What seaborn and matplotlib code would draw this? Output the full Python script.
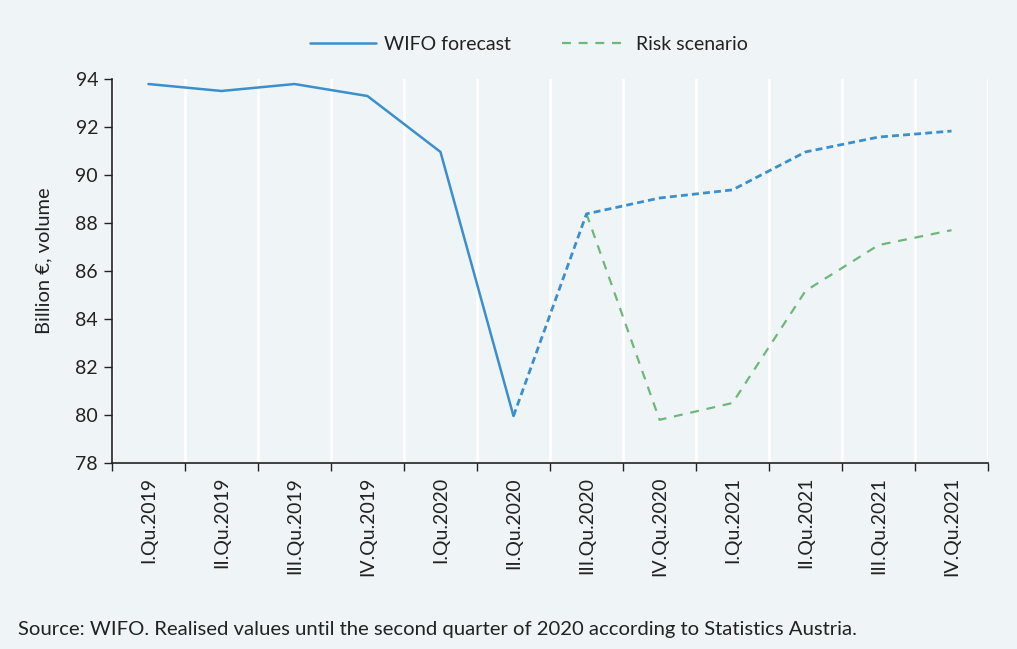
import matplotlib
matplotlib.use("Agg")
import matplotlib.pyplot as plt
import seaborn as sns
import pandas as pd
import numpy as np

quarters = ["I.Qu.2019", "II.Qu.2019", "III.Qu.2019", "IV.Qu.2019",
            "I.Qu.2020", "II.Qu.2020", "III.Qu.2020", "IV.Qu.2020",
            "I.Qu.2021", "II.Qu.2021", "III.Qu.2021", "IV.Qu.2021"]
realised = [93.79, 93.50, 93.79, 93.29, 90.96, 79.96]
forecast = [79.96, 88.38, 89.04, 89.38, 90.96, 91.58, 91.83]
risk = [88.38, 79.80, 80.50, 85.17, 87.08, 87.70]

BG = "#EFF5F6"
BLUE = "#3A8FCC"
GREEN = "#6DB77A"
TXT = "#222222"

sns.set_theme(style="white")
plt.rcParams['font.family'] = ['Lato', 'DejaVu Sans']

fig = plt.figure(figsize=(10.17, 6.49), dpi=100, facecolor=BG)
ax = fig.add_axes([0.1101, 0.2866, 0.8614, 0.5917], facecolor=BG)

pos = np.arange(len(quarters))
df_real = pd.DataFrame({"x": pos[:6], "y": realised})
df_fc = pd.DataFrame({"x": pos[5:], "y": forecast})
df_risk = pd.DataFrame({"x": pos[6:], "y": risk})

# grid at category boundaries
for b in np.arange(len(quarters) + 1) - 0.5:
    ax.axvline(b, color="white", lw=2, zorder=0.5)

sns.lineplot(data=df_risk, x="x", y="y", ax=ax, color=GREEN, lw=1.6,
             linestyle=(0, (4, 3.5)), label="Risk scenario", zorder=3)
sns.lineplot(data=df_fc, x="x", y="y", ax=ax, color=BLUE, lw=2.0,
             linestyle=(0, (2.5, 1.5)), zorder=4, label="_nolegend_")
sns.lineplot(data=df_real, x="x", y="y", ax=ax, color=BLUE, lw=1.8,
             label="WIFO forecast", zorder=4)

ax.set_xlim(-0.5, len(quarters) - 0.5)
ax.set_ylim(78, 94)
ax.set_yticks(np.arange(78, 95, 2))
ax.set_xticks(pos)
ax.set_xticklabels(quarters, rotation=90, fontsize=14, color=TXT)
ax.set_xticks(np.arange(len(quarters) + 1) - 0.5, minor=True)
ax.tick_params(axis="x", which="major", length=0, pad=10)
ax.tick_params(axis="x", which="minor", length=6, width=1, color=TXT, direction="out", bottom=True)
ax.tick_params(axis="y", length=6, width=1, color=TXT, direction="out", left=True,
               labelsize=14, labelcolor=TXT, pad=4)
ax.set_xlabel("")
ax.set_ylabel("Billion €, volume", fontsize=14.5, color=TXT, labelpad=14)
ax.yaxis.set_label_coords(-0.068, 0.526)
for s in ["top", "right"]:
    ax.spines[s].set_visible(False)
for s in ["left", "bottom"]:
    ax.spines[s].set_color(TXT)
    ax.spines[s].set_linewidth(1.2)
ax.grid(False)

h, l = ax.get_legend_handles_labels()
order = [l.index("WIFO forecast"), l.index("Risk scenario")]
ax.get_legend().remove()
leg = fig.legend([h[i] for i in order], [l[i] for i in order], loc="center",
                 bbox_to_anchor=(529 / 1017, 1 - 44 / 649), ncol=2, frameon=False,
                 fontsize=14, handlelength=3.35, columnspacing=2.6, handletextpad=0.45)
for t in leg.get_texts():
    t.set_color(TXT)

fig.text(18 / 1017, 1 - 630 / 649,
         "Source: WIFO. Realised values until the second quarter of 2020 according to Statistics Austria.",
         fontsize=14.6, color=TXT, va="center", ha="left")

fig.savefig("out.png", dpi=100, facecolor=BG)
